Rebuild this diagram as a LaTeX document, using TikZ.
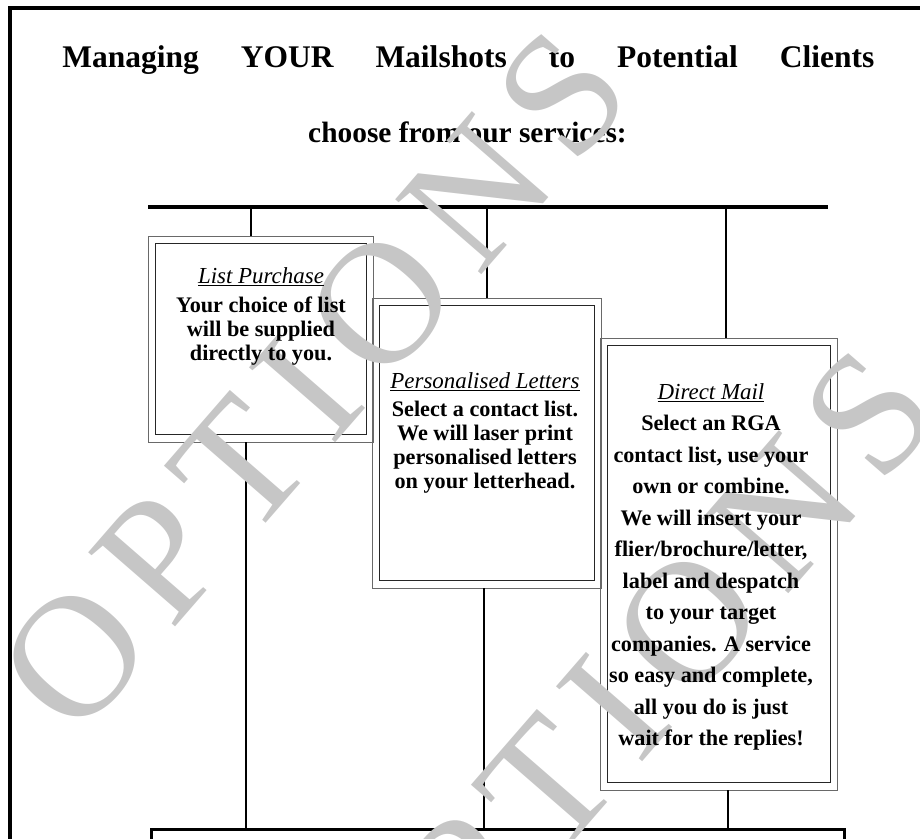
\documentclass[tikz,border=0pt]{standalone}
\usepackage{fontspec}
\setmainfont{Liberation Serif}
\newfontfamily\wmfont[LetterSpace=11.4]{Liberation Serif}
\definecolor{wmgray}{RGB}{198,198,198}
\definecolor{boxgray}{RGB}{105,105,105}
\newlength{\pxu}
\setlength{\pxu}{0.025cm}
\tikzset{
  svcbox/.style={draw=boxgray, line width=0.7pt, inner sep=0pt},
  innerbox/.style={draw=black!85, line width=0.7pt},
  svctext/.style={align=center, inner sep=0pt, anchor=north},
  wmark/.style={text=wmgray, rotate=49, inner sep=0pt, font=\wmfont\fontsize{124}{124}\selectfont},
  bus/.style={line width=2.4pt},
  drop/.style={line width=1.7pt}
}
\begin{document}
\begin{tikzpicture}[x=0.025cm, y=-0.025cm]

	\useasboundingbox (0,0) rectangle (920,839);
	\clip (0,0) rectangle (920,839);

	\draw [line width=2.2pt] (10,8) rectangle (1000,1000);

	\node [anchor=base west, inner sep=0pt] (title) at (62,68)
		{\fontsize{22.4}{26}\selectfont\bfseries\makebox[812\pxu][s]{Managing YOUR Mailshots to Potential Clients}};
	\node [anchor=base, inner sep=0pt] (sub) at (467.5,143)
		{\fontsize{20.9}{24}\selectfont\bfseries choose from our services:};

	\coordinate (busl) at (148,207);
	\coordinate (busr) at (828,207);
	\draw [bus] (busl) -- (busr);

	\node [svcbox, minimum width=225\pxu, minimum height=206\pxu] (lp) at (260.5,339) {};
	\node [svcbox, minimum width=229\pxu, minimum height=290\pxu] (pl) at (486.5,443) {};
	\node [svcbox, minimum width=237\pxu, minimum height=452\pxu] (dm) at (718.5,564) {};
	\foreach \b in {lp,pl,dm}
		\draw [innerbox] ([shift={(8,8)}]\b.north west) rectangle ([shift={(-7,-8)}]\b.south east);

	\node [draw, line width=2.2pt, minimum width=693\pxu, minimum height=100\pxu, anchor=north west] (base) at (150,828) {};

	\coordinate (t1) at (251,207);
	\coordinate (t2) at (487,207);
	\coordinate (t3) at (726,207);
	\draw [drop] (t1) -- (t1 |- lp.north);
	\draw [drop] (t2) -- (t2 |- pl.north);
	\draw [drop] (t3) -- (t3 |- dm.north);

	\coordinate (u1) at (246,0);
	\coordinate (u2) at (484,0);
	\coordinate (u3) at (728,0);
	\draw [drop] (u1 |- lp.south) -- (u1 |- base.north);
	\draw [drop] (u2 |- pl.south) -- (u2 |- base.north);
	\draw [drop] (u3 |- dm.south) -- (u3 |- base.north);

	\node [wmark] (wm1) at (314,381) {OPTIONS};
	\node [wmark] (wm2) at (621,700) {OPTIONS};

	\node [svctext, font=\fontsize{15.8}{17.1}\selectfont\bfseries] (lptext) at (261,267)
		{\underline{\textit{\mdseries\fontsize{16.3}{17}\selectfont List Purchase}}\\[5\pxu]
		Your choice of list\\will be supplied\\directly to you.};
	\node [svctext, font=\fontsize{15.8}{17.1}\selectfont\bfseries] (pltext) at (485,372)
		{\underline{\textit{\mdseries\fontsize{16.3}{17}\selectfont Personalised Letters}}\\[4\pxu]
		Select a contact list.\\We will laser print\\personalised letters\\on your letterhead.};
	\node [svctext, font=\fontsize{15.8}{22.4}\selectfont\bfseries] (dmtext) at (711,383)
		{\underline{\textit{\mdseries\fontsize{16.3}{17}\selectfont Direct Mail}}\\
		Select an RGA\\contact list, use your\\own or combine.\\We will insert your\\
		flier/brochure/letter,\\label and despatch\\to your target\\companies. A service\\
		so easy and complete,\\all you do is just\\wait for the replies!};

\end{tikzpicture}
\end{document}
